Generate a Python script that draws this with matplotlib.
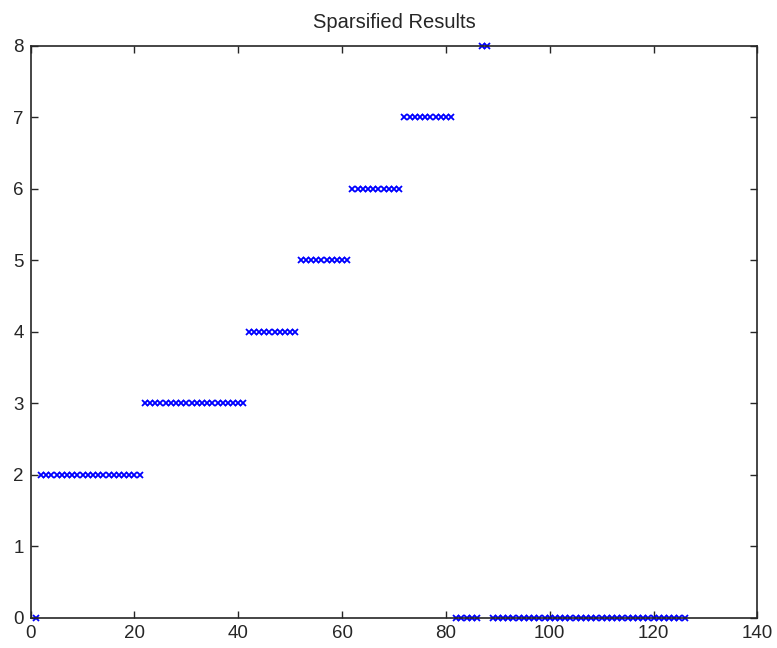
import numpy as np
import matplotlib
matplotlib.use("Agg")
import matplotlib.pyplot as plt

# Cluster label assigned to each sample index after sparsification
sample_index = list(range(1, 127))
cluster_label = (
    [0]
    + [2] * 20   # 2..21
    + [3] * 20   # 22..41
    + [4] * 10   # 42..51
    + [5] * 10   # 52..61
    + [6] * 10   # 62..71
    + [7] * 10   # 72..81
    + [0] * 5    # 82..86
    + [8] * 2    # 87..88
    + [0] * 38   # 89..126
)

x_ticks = [0, 20, 40, 60, 80, 100, 120, 140]
y_ticks = [0, 1, 2, 3, 4, 5, 6, 7, 8]

plt.rcParams["font.family"] = ["Liberation Sans", "DejaVu Sans"]

fig = plt.figure(figsize=(7.77, 6.48), dpi=100)
ax = fig.add_axes([0.0395, 0.0463, 0.9352, 0.8832])

ax.plot(sample_index, cluster_label, linestyle="none", marker="x",
        color=(0, 0, 1), markersize=5, markeredgewidth=1.3, clip_on=False)

ax.set_xlim(0, 140)
ax.set_ylim(0, 8)
ax.set_xticks(x_ticks)
ax.set_yticks(y_ticks)
ax.tick_params(direction="in", length=5, width=1, top=True, right=True,
               labelsize=13.5, colors="#262626")
ax.tick_params(axis="x", pad=5)
ax.tick_params(axis="y", pad=5)
for s in ax.spines.values():
    s.set_linewidth(1.2)
    s.set_color("#262626")

ax.set_title("Sparsified Results", fontsize=14.5, pad=13, color="#262626")

fig.savefig("out.png", dpi=100)
